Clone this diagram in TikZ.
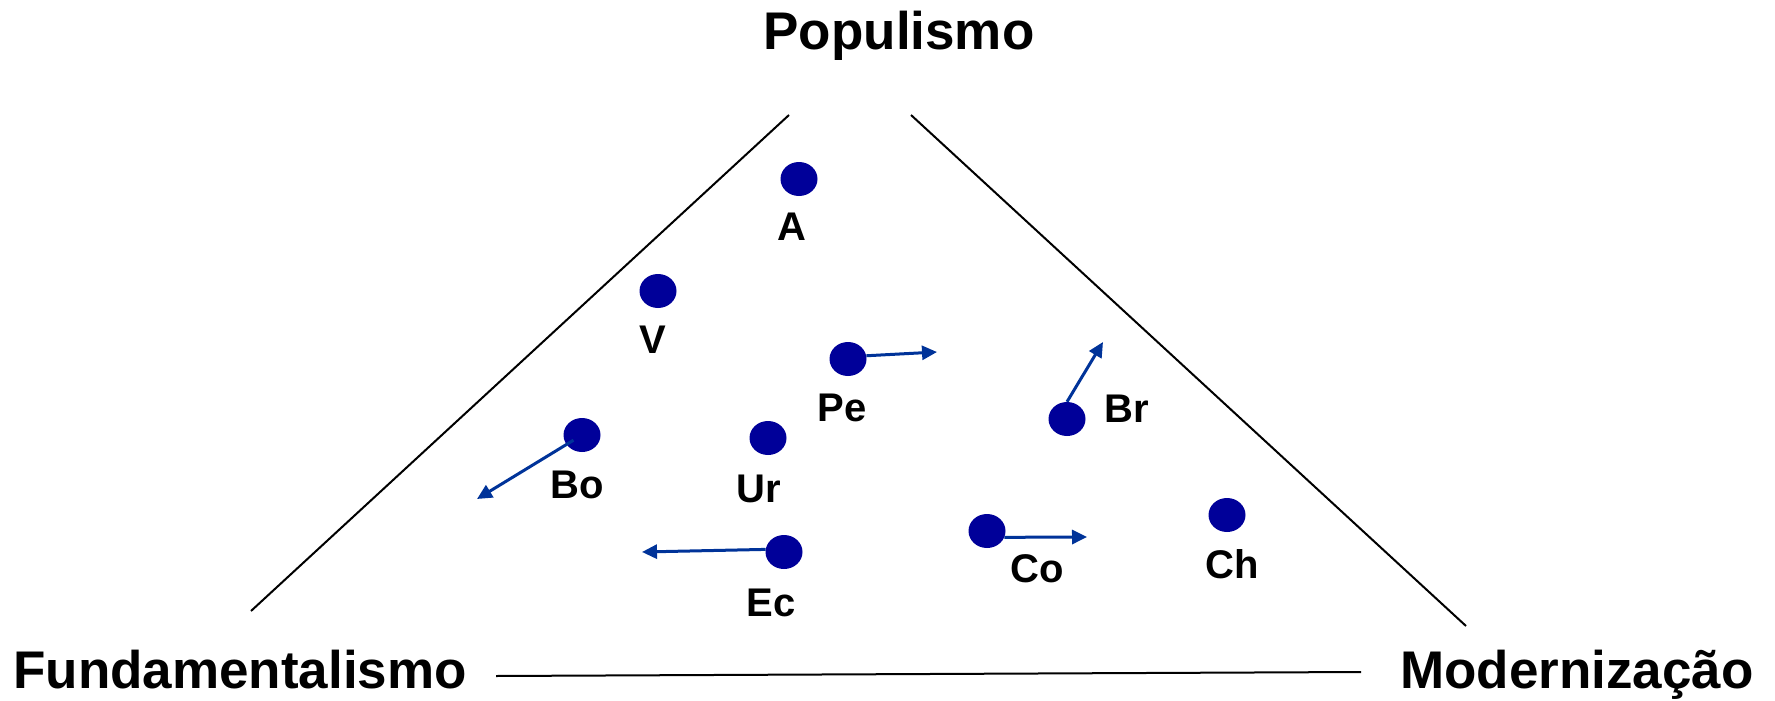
\documentclass[tikz,border=0pt]{standalone}
\usepackage{fontspec}
\setmainfont{Liberation Sans}
\usetikzlibrary{arrows.meta,shapes.geometric}
\definecolor{dotnavy}{HTML}{000099}
\definecolor{arrblue}{HTML}{003399}
\begin{document}
\begin{tikzpicture}[x=1pt,y=-1pt,
  axislabel/.style={anchor=base,inner sep=0pt,font=\fontsize{53}{60}\selectfont\bfseries},
  ptlabel/.style={anchor=base,inner sep=0pt,font=\fontsize{40}{46}\selectfont\bfseries},
  country/.style={ellipse,fill=dotnavy,draw=none,minimum width=37pt,minimum height=34pt,inner sep=0pt},
  edge/.style={black,line width=2pt},
  move/.style={arrblue,line width=3pt,-{Triangle[length=15pt,width=14pt]}}]
\useasboundingbox (0,0) rectangle (1775,701);
% axis labels
\node[axislabel] (pop) at (899,50) {Populismo};
\node[axislabel] (fun) at (240,688) {Fundamentalismo};
\node[axislabel] (mod) at (1577,688) {Modernização};
% triangle sides
\coordinate (l1) at (789,115); \coordinate (l2) at (251,611);
\coordinate (r1) at (911,115); \coordinate (r2) at (1466,626);
\coordinate (b1) at (496,676); \coordinate (b2) at (1361,672);
\draw[edge] (l1) -- (l2);
\draw[edge] (r1) -- (r2);
\draw[edge] (b1) -- (b2);
% countries
\node[country] (A)  at (799,179) {};
\node[country] (V)  at (658,291) {};
\node[country] (Pe) at (848,359) {};
\node[country] (Bo) at (582,435) {};
\node[country] (Ur) at (768,438) {};
\node[country] (Br) at (1067,419) {};
\node[country] (Co) at (987,531) {};
\node[country] (Ch) at (1227,515) {};
\node[country] (Ec) at (784,552) {};
% labels
\node[ptlabel] (lA)  at (792,240) {A};
\node[ptlabel] (lV)  at (653,353) {V};
\node[ptlabel] (lPe) at (842,421) {Pe};
\node[ptlabel] (lBo) at (577,498) {Bo};
\node[ptlabel] (lUr) at (759,502) {Ur};
\node[ptlabel] (lBr) at (1127,422) {Br};
\node[ptlabel] (lCo) at (1037,582) {Co};
\node[ptlabel] (lCh) at (1232,578) {Ch};
\node[ptlabel] (lEc) at (771,616) {Ec};
% movement arrows
\coordinate (tPe) at (937,352);
\coordinate (tBo) at (477,499);
\coordinate (tEc) at (642,552);
\coordinate (tBr) at (1103,342);
\coordinate (tCo) at (1087,537);
\draw[move] (Pe.10) -- (tPe);
\draw[move,shorten <=10pt] (Bo.center) -- (tBo);
\draw[move] (Ec.172) -- (tEc);
\draw[move] (Br.north) -- (tBr);
\draw[move] (Co.-20) -- (tCo);
\end{tikzpicture}
\end{document}
